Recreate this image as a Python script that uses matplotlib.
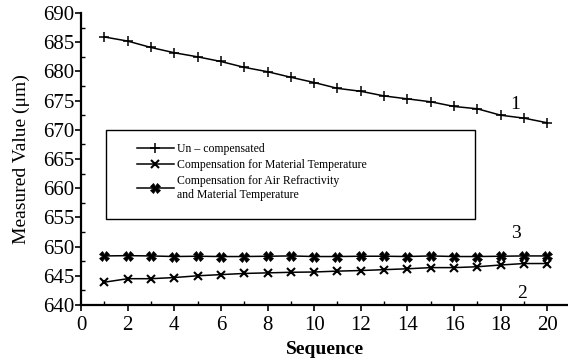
import matplotlib
matplotlib.use("Agg")
import matplotlib.pyplot as plt
from matplotlib.patches import Rectangle
from matplotlib.ticker import MultipleLocator

# data
seq = list(range(1, 21))
uncompensated = [685.9, 685.2, 684.1, 683.2, 682.5, 681.7, 680.7, 679.95, 679.0, 678.1,
                 677.1, 676.6, 675.8, 675.3, 674.8, 674.0, 673.6, 672.5, 672.0, 671.2]
comp_material = [643.9, 644.5, 644.5, 644.7, 645.0, 645.2, 645.4, 645.5, 645.6, 645.65,
                 645.8, 645.9, 646.05, 646.2, 646.4, 646.4, 646.55, 646.85, 647.1, 647.1]
comp_air_material = [648.4, 648.45, 648.4, 648.3, 648.35, 648.3, 648.3, 648.35, 648.4, 648.3,
                     648.3, 648.35, 648.35, 648.3, 648.4, 648.3, 648.3, 648.35, 648.4, 648.4]

labels = ["Un \u2013 compensated",
          "Compensation for Material Temperature",
          "Compensation for Air Refractivity\nand Material Temperature"]

plt.rcParams['font.family'] = ['Liberation Serif', 'DejaVu Serif']

fig = plt.figure(figsize=(5.68, 3.62), dpi=100)
ax = fig.add_axes([0.1426, 0.1575, 0.86, 0.8065])

ax.plot(seq, uncompensated, color='black', lw=1.1, marker='+', ms=7, mew=1.1, label=labels[0])
ax.plot(seq, comp_material, color='black', lw=1.1, marker='x', ms=6, mew=1.5, label=labels[1])
ax.plot(seq, comp_air_material, color='black', lw=1.1, marker='X', ms=6.5, mew=0.5, label=labels[2])

ax.set_xlim(0, 20.95)
ax.set_ylim(640, 690)
ax.set_xticks(range(0, 21, 2))
ax.set_yticks(range(640, 691, 5))
ax.xaxis.set_minor_locator(MultipleLocator(1))
ax.yaxis.set_minor_locator(MultipleLocator(2.5))
ax.tick_params(which='major', direction='out', length=4, width=1.2, labelsize=15)
ax.tick_params(axis='y', which='major', pad=1)
ax.tick_params(axis='x', which='major', pad=4)
ax.tick_params(which='minor', direction='in', length=3, width=1)

for s in ['top', 'right']:
    ax.spines[s].set_visible(False)
for s in ['left', 'bottom']:
    ax.spines[s].set_linewidth(1.6)

ax.set_xlabel("Sequence", fontsize=14, fontweight='bold', labelpad=4)
ax.set_ylabel("Measured Value (\u03bcm)", fontsize=14, labelpad=9)

ax.text(18.6, 674.4, "1", fontsize=14, ha='center', va='center')
ax.text(18.65, 652.3, "3", fontsize=14, ha='center', va='center')
ax.text(18.9, 642.0, "2", fontsize=14, ha='center', va='center')

# legend box drawn separately, entries placed inside it
ax.add_patch(Rectangle((0.051, 0.295), 0.756, 0.304, transform=ax.transAxes,
                       fill=False, edgecolor='black', lw=1.0, zorder=3))
leg = ax.legend(loc='upper left', bbox_to_anchor=(0.115, 0.555),
                fontsize=8.5, frameon=False, handlelength=3.1,
                borderpad=0, labelspacing=0.35, handletextpad=0.3, borderaxespad=0)

fig.savefig("out.png", dpi=100)
